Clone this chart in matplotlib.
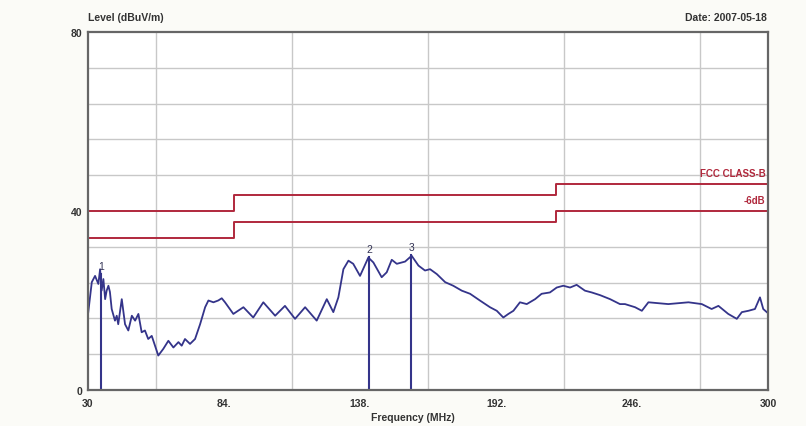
import numpy as np
from matplotlib import pyplot as plt

plt.rcParams['font.family'] = ['Liberation Sans', 'DejaVu Sans']

freq = [30.1, 31.5, 32.8, 34.1, 34.8, 35.4, 36.1, 36.8, 37.4, 38.1, 38.7, 39.4,
        40.7, 41.4, 42.0, 43.4, 44.7, 46.0, 47.4, 48.7, 50.0, 51.3, 52.6, 53.9,
        55.3, 56.6, 57.9, 59.9, 61.9, 63.9, 65.9, 67.2, 68.5, 70.5, 72.5, 74.5,
        76.5, 77.8, 79.8, 81.7, 83.1, 84.4, 87.7, 91.7, 95.6, 99.6, 104.3, 108.2,
        112.2, 116.2, 120.8, 124.8, 127.4, 129.4, 131.4, 133.4, 135.3, 138.0,
        141.3, 143.3, 146.6, 148.6, 150.6, 152.6, 155.9, 158.5, 161.2, 163.8,
        165.8, 168.5, 171.8, 175.0, 178.4, 181.7, 185.6, 189.6, 192.3, 194.9,
        196.9, 198.9, 201.5, 204.2, 207.5, 210.1, 213.4, 216.1, 218.7, 221.4,
        224.0, 227.3, 230.0, 233.3, 237.3, 241.2, 243.2, 247.2, 249.9, 252.5,
        256.4, 260.4, 264.4, 268.4, 273.7, 277.6, 280.3, 284.2, 287.6, 289.6,
        292.2, 294.8, 296.8, 298.1, 299.5]
level = [17.4, 24.1, 25.5, 23.7, 27.0, 22.2, 24.8, 20.3, 22.2, 23.3, 21.9, 18.1,
         15.5, 16.6, 14.7, 20.3, 14.7, 13.3, 16.6, 15.5, 17.0, 12.9, 13.3, 11.4,
         12.1, 9.9, 7.7, 9.2, 11.0, 9.5, 10.7, 9.9, 11.4, 10.3, 11.4, 14.7,
         18.5, 20.0, 19.6, 20.0, 20.5, 19.6, 17.0, 18.5, 16.2, 19.6, 16.6, 18.8,
         15.9, 18.5, 15.5, 20.3, 17.4, 20.7, 27.0, 28.9, 28.2, 25.5,
         29.6, 28.5, 25.2, 26.3, 29.1, 28.2, 28.7, 30.0, 27.8, 26.7,
         27.0, 25.9, 24.1, 23.3, 22.2, 21.5, 20.0, 18.5, 17.7, 16.2,
         17.0, 17.7, 19.6, 19.2, 20.3, 21.5, 21.8, 22.9, 23.3, 22.9,
         23.5, 22.2, 21.8, 21.2, 20.3, 19.2, 19.2, 18.5, 17.7, 19.6,
         19.4, 19.2, 19.4, 19.6, 19.2, 18.1, 18.8, 17.0, 15.9, 17.4,
         17.7, 18.1, 20.7, 18.1, 17.4]

# FCC class B limit and the -6 dB margin line
limit_f = [30, 88, 88, 216, 216, 300]
limit_db = [40, 40, 43.5, 43.5, 46, 46]
margin_db = [34, 34, 37.5, 37.5, 40, 40]

# peak markers
mark_no = ['1', '2', '3']
mark_f = [35.2, 141.6, 158.3]
mark_db = [26.0, 29.7, 30.2]

xticks = [30, 84, 138, 192, 246, 300]
xtick_labels = ['30', '84.', '138.', '192.', '246.', '300']
yticks = [0, 40, 80]

fig = plt.figure(figsize=(8.06, 4.27), dpi=100)
fig.patch.set_facecolor('#fbfbf7')
ax = fig.add_axes([0.1092, 0.0843, 0.8437, 0.8384])
ax.set_facecolor('white')

ax.set_xlim(30, 300)
ax.set_ylim(0, 80)
ax.set_xticks(np.arange(30, 301, 27), minor=True)
ax.set_yticks(np.arange(0, 81, 8), minor=True)
ax.grid(which='minor', color='#c8c8c8', linewidth=1)
ax.set_xticks(xticks)
ax.set_xticklabels(xtick_labels)
ax.set_yticks(yticks)
ax.tick_params(which='both', length=0)
ax.tick_params(axis='x', pad=6, labelsize=7.5)
ax.tick_params(axis='y', pad=4, labelsize=7.5)
for t in ax.get_xticklabels() + ax.get_yticklabels():
    t.set_fontweight('bold')
    t.set_color('#333333')
for s in ax.spines.values():
    s.set_color('#666666')
    s.set_linewidth(1.6)

red = '#b0283c'
ax.plot(limit_f, limit_db, color=red, linewidth=1.4)
ax.plot(limit_f, margin_db, color=red, linewidth=1.4)
ax.text(299, limit_db[-1] + 1.3, 'FCC CLASS-B', color=red, fontsize=7,
        fontweight='bold', ha='right', va='bottom')
ax.text(299, margin_db[-1] + 1.3, '-6dB', color=red, fontsize=7,
        fontweight='bold', ha='right', va='bottom')

navy = '#34348a'
ax.plot(freq, level, color=navy, linewidth=1.3)
for n, f, d in zip(mark_no, mark_f, mark_db):
    ax.plot([f, f], [0, d], color=navy, linewidth=1.5)
    ax.text(f, d + 0.6, n, color='#333355', fontsize=7.5, ha='center',
            va='bottom')

fig.text(0.109, 0.945, 'Level (dBuV/m)', fontsize=7.5, fontweight='bold',
         color='#333333', ha='left', va='bottom')
fig.text(0.951, 0.945, 'Date: 2007-05-18', fontsize=7.5, fontweight='bold',
         color='#333333', ha='right', va='bottom')
fig.text(0.512, 0.01, 'Frequency (MHz)', fontsize=7.5, fontweight='bold',
         color='#333333', ha='center', va='bottom')

fig.savefig('out.png', dpi=100, facecolor=fig.get_facecolor())
